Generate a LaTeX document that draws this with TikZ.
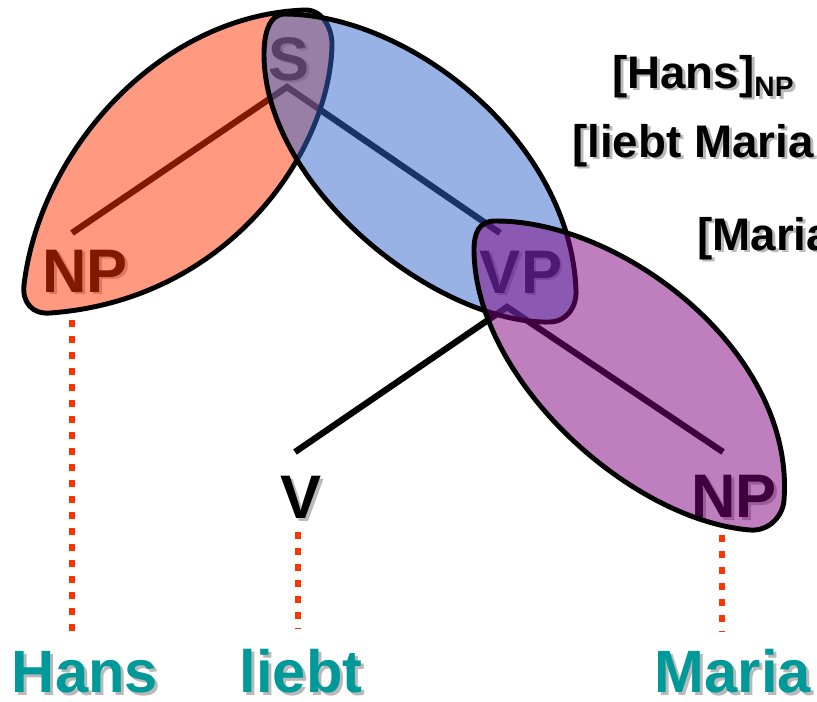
\documentclass[tikz,border=0pt]{standalone}
\usepackage{fontspec}
\setmainfont{Liberation Sans}
\usetikzlibrary{calc}

\definecolor{dotred}{RGB}{255,51,0}
\definecolor{wordteal}{RGB}{0,153,153}
\definecolor{shadowgray}{RGB}{185,185,185}
\definecolor{npred}{RGB}{255,51,0}
\definecolor{sblue}{RGB}{51,102,204}
\definecolor{vppurple}{RGB}{128,0,128}

\newcommand{\shadowed}[1]{\makebox[0pt][l]{\hspace{1.7pt}\raisebox{-1.7pt}{\color{shadowgray}#1}}#1}
\newcommand{\catsub}[1]{\raisebox{-5pt}{\fontsize{16}{18}\selectfont #1}}

\tikzset{
  cat/.style={inner sep=0pt, anchor=base, font=\fontsize{35}{40}\selectfont\bfseries},
  word/.style={inner sep=0pt, anchor=base, text=wordteal, font=\fontsize{34}{40}\selectfont\bfseries},
  bracket/.style={inner sep=0pt, anchor=base west, font=\fontsize{26}{30}\selectfont\bfseries},
  branch/.style={line width=3.6pt},
  wordlink/.style={draw=dotred, line width=3.8pt, dash pattern=on 3.9pt off 5.2pt},
  leaf/.style={draw=black, line width=2.8pt, fill opacity=0.5},
}

\begin{document}
\begin{tikzpicture}[x=0.02cm, y=-0.02cm]
    \useasboundingbox (0,0) rectangle (817,701);
    \clip (0,0) rectangle (817,701);

    \node[cat] (NPh) at (85,292) {\shadowed{NP}};
    \node[cat] (S) at (289,80) {\shadowed{S}};
    \node[cat] (VP) at (521,293) {\shadowed{VP}};
    \node[cat] (V) at (301,518) {\shadowed{V}};
    \node[cat] (NPm) at (734,517) {\shadowed{NP}};

    \node[word] (Hans) at (85,692) {\shadowed{Hans}};
    \node[word] (liebt) at (301,692) {\shadowed{liebt}};
    \node[word] (Maria) at (733,692) {\shadowed{Maria}};

    \node[bracket] (B1) at (612,88) {\shadowed{[Hans]\catsub{NP}}};
    \node[bracket] (B2) at (572,157) {\shadowed{[liebt Maria}};
    \node[bracket] (B3) at (697,250) {\shadowed{[Maria}};

    \coordinate (Sj) at (287,87);
    \coordinate (VPj) at (507,307);
    \coordinate (NPhtop) at (72,233);
    \coordinate (VPtop) at (500,233);
    \coordinate (Vtop) at (295,452);
    \coordinate (NPmtop) at (723,452);
    \coordinate (NPhlow) at (72,320);
    \coordinate (Hanstop) at (72,636);
    \coordinate (Vlow) at (298,532);
    \coordinate (liebttop) at (298,629);
    \coordinate (NPmlow) at (722,535);
    \coordinate (Mariatop) at (722,631);

    \draw [branch] (NPhtop) -- (Sj) -- (VPtop);
    \draw [branch] (Vtop) -- (VPj) -- (NPmtop);

    \draw [wordlink] (NPhlow) to (Hanstop);
    \draw [wordlink] (Vlow) to (liebttop);
    \draw [wordlink] (NPmlow) to (Mariatop);

    \draw [leaf, fill=npred] (24,285) .. controls (40,150) and (160,15) .. (305,10)
      .. controls (322,9.4) and (332.3,28) .. (332,45)
      .. controls (330,150) and (230,300) .. (50,313)
      .. controls (32,314.5) and (22,302) .. cycle;
    \draw [leaf, fill=sblue] (285,14) .. controls (410,15) and (570,140) .. (576,290)
      .. controls (577,307) and (566.5,321.5) .. (550,322)
      .. controls (440,325) and (265,190) .. (264,55)
      .. controls (264,36) and (268,14) .. cycle;
    \draw [leaf, fill=vppurple] (495,221) .. controls (620,220) and (795,350) .. (784,500)
      .. controls (782.8,517) and (768,531.5) .. (750,530)
      .. controls (630,520) and (475,380) .. (474,250)
      .. controls (474,233) and (479,221) .. cycle;
\end{tikzpicture}
\end{document}
